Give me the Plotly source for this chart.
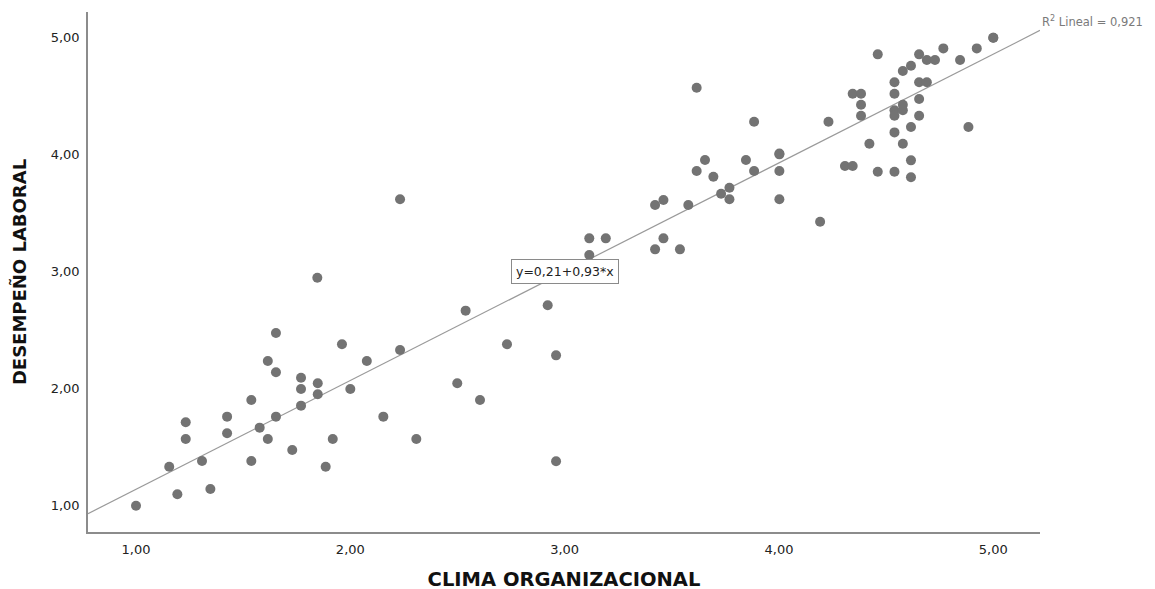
import plotly.graph_objects as go
import numpy as np

clima = [
    1.653, 1.615, 1.653, 1.770, 1.848, 1.770, 1.848, 1.538, 1.425, 1.653,
    1.770, 1.232, 1.577, 1.232, 1.425, 1.615, 1.918, 1.729, 1.155, 1.308,
    1.538, 1.885, 1.193, 1.347, 1.000,
    2.232, 1.846, 2.538, 1.961, 2.077, 2.232, 2.000, 2.499, 2.605, 2.154,
    2.308,
    3.422, 3.461, 3.577, 3.115, 3.192, 3.115, 3.461, 3.422, 3.538, 2.921,
    2.731, 2.960, 2.960,
    3.616, 3.884, 4.231, 4.002, 4.002, 3.655, 3.846, 3.616, 3.694, 3.884,
    4.002, 4.308, 3.769, 3.730, 3.769, 4.002, 4.192,
    5.000, 5.000, 4.923, 4.767, 4.461, 4.654, 4.690, 4.728, 4.845, 4.616,
    4.578, 4.539, 4.654, 4.690, 4.344, 4.383, 4.539, 4.654, 4.383, 4.578,
    4.539, 4.578, 4.539, 4.383, 4.654, 4.616, 4.884, 4.539, 4.422, 4.578,
    4.616, 4.344, 4.461, 4.539, 4.616,
]
desempeno = [
    2.476, 2.237, 2.140, 2.094, 2.046, 1.997, 1.952, 1.903, 1.761, 1.761,
    1.855, 1.713, 1.667, 1.570, 1.619, 1.570, 1.570, 1.476, 1.333, 1.382,
    1.382, 1.333, 1.097, 1.143, 1.000,
    3.619, 2.949, 2.667, 2.380, 2.237, 2.331, 1.997, 2.046, 1.903, 1.761,
    1.570,
    3.570, 3.613, 3.570, 3.285, 3.285, 3.143, 3.285, 3.191, 3.191, 2.713,
    2.380, 2.285, 1.380,
    4.573, 4.282, 4.282, 4.003, 4.010, 3.955, 3.955, 3.861, 3.812, 3.861,
    3.861, 3.903, 3.718, 3.667, 3.619, 3.619, 3.427,
    5.000, 5.000, 4.909, 4.909, 4.858, 4.858, 4.809, 4.809, 4.809, 4.761,
    4.715, 4.619, 4.619, 4.619, 4.521, 4.521, 4.521, 4.476, 4.427, 4.427,
    4.380, 4.380, 4.333, 4.333, 4.333, 4.237, 4.237, 4.191, 4.094, 4.094,
    3.952, 3.903, 3.855, 3.855, 3.807,
]

intercept = 0.21
slope = 0.93
r2_label = "R<sup>2</sup> Lineal = 0,921"
eq_label = "y=0,21+0,93*x"

x_ticks = [1, 2, 3, 4, 5]
y_ticks = [1, 2, 3, 4, 5]
x_range = [0.776, 5.218]
y_range = [0.775, 5.220]

line_x = np.array(x_range)
line_y = intercept + slope * line_x

FONT = "DejaVu Sans"

fig = go.Figure()
fig.add_trace(go.Scatter(
    x=line_x, y=line_y, mode="lines",
    line=dict(color="#9a9a9a", width=1.2),
    hoverinfo="skip", showlegend=False,
))
fig.add_trace(go.Scatter(
    x=clima, y=desempeno, mode="markers",
    marker=dict(color="#737373", size=10, line=dict(width=0)),
    showlegend=False,
))

fig.add_annotation(
    x=3.0, y=3.0, xref="x", yref="y", text=eq_label, showarrow=False,
    font=dict(family=FONT, size=12.5, color="#222222"),
    bgcolor="white", bordercolor="#8a8a8a", borderwidth=1, borderpad=4,
)
fig.add_annotation(
    x=x_range[1], y=intercept + slope * x_range[1], xref="x", yref="y",
    text=r2_label, showarrow=False, xanchor="left", yanchor="bottom", xshift=0, yshift=-1,
    font=dict(family=FONT, size=11.5, color="#7a7a7a"),
)

axis_common = dict(
    showgrid=False, zeroline=False, showline=True, linecolor="#8c8c8c",
    linewidth=1.5, ticks="", tickformat=".2f",
    tickfont=dict(family=FONT, size=13, color="#222222"),
)

fig.update_xaxes(
    range=x_range, tickvals=x_ticks, mirror=False, ticklabelstandoff=5,
    title_text="<b>CLIMA ORGANIZACIONAL</b>", title_standoff=16,
    title_font=dict(family=FONT, size=19.5, color="#111111"),
    **axis_common,
)
fig.update_yaxes(
    range=y_range, tickvals=y_ticks, mirror=False, ticklabelstandoff=4,
    title_text="<b>DESEMPEÑO LABORAL</b>", title_standoff=21,
    title_font=dict(family=FONT, size=18, color="#111111"),
    **axis_common,
)

fig.update_layout(
    width=1155, height=589,
    margin=dict(l=80, r=123, t=4, b=65),
    plot_bgcolor="white", paper_bgcolor="white",
    separators=",.",
    showlegend=False,
)

fig.write_html("out.html")
